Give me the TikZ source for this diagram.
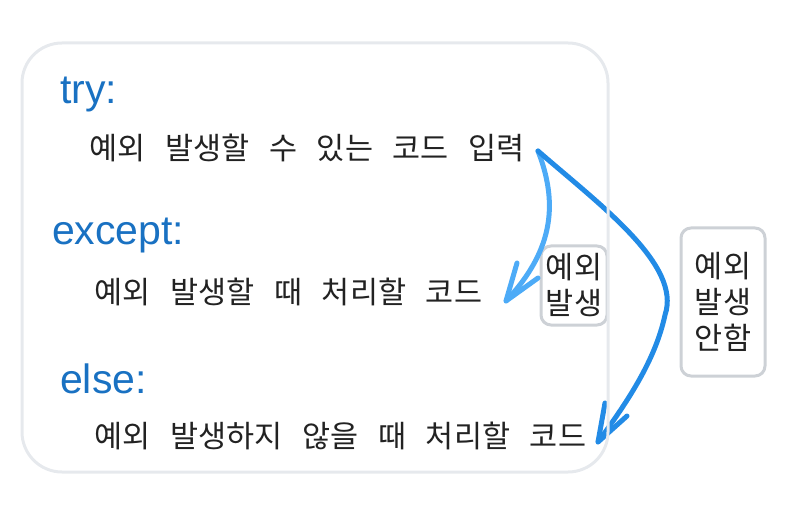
\documentclass[tikz,border=0pt]{standalone}
\usepackage{fontspec}
\usetikzlibrary{calc}
\setmainfont{Liberation Sans}
\newfontfamily\kr[WordSpace=2.9]{Noto Sans CJK KR}
\definecolor{kwblue}{HTML}{1971C2}
\definecolor{txt}{HTML}{222222}
\definecolor{boxline}{HTML}{E6E9ED}
\definecolor{lblline}{HTML}{CDD1D6}
\definecolor{lightarr}{HTML}{4DABF7}
\definecolor{darkarr}{HTML}{228BE6}
\tikzset{
  kw/.style={anchor=base west, inner sep=0pt, text=kwblue, font=\fontsize{41}{41}\selectfont},
  code/.style={anchor=west, inner sep=0pt, text=txt, font=\kr\fontsize{30.5}{30.5}\selectfont},
  lbl/.style={draw=lblline, line width=3pt, rounded corners=10pt, text=txt, align=center,
    font=\kr\fontsize{30.5}{36}\selectfont, inner sep=0pt},
  arr/.style={line width=5pt, line cap=round, line join=round},
}
\begin{document}
\begin{tikzpicture}[x=1pt,y=-1pt]
\useasboundingbox (0,0) rectangle (786,518);
% texts
\node[kw] (try) at (60,104) {try:};
\node[code] (t1) at (89,148) {예외 발생할 수 있는 코드 입력};
\node[kw] (exc) at (52,245) {except:};
\node[code] (t2) at (94,292) {예외 발생할 때 처리할 코드};
\node[kw] (els) at (60,393) {else:};
\node[code] (t3) at (94,436) {예외 발생하지 않을 때 처리할 코드};
% labels
\node[lbl, minimum width=66pt, minimum height=79pt] (l1) at (574,285.5) {예외\\발생};
\node[lbl, minimum width=84pt, minimum height=148pt] (l2) at (723,302) {예외\\발생\\안함};
% arrows
\coordinate (s) at (538,151);
\coordinate (e1) at (506,301);
\coordinate (b1a) at (517,263);
\coordinate (b1b) at (538,278);
\coordinate (e2) at (598,442);
\coordinate (b2a) at (605,403);
\coordinate (b2b) at (627,416);
\coordinate (m2) at (665,315);
\draw[arr, lightarr] (s) .. controls (557,200) and (556,248) .. (e1);
\draw[arr, lightarr] (b1a) -- (e1) -- (b1b);
\draw[arr, darkarr] (s) .. controls (600,205) and (682,265) .. (m2)
  .. controls (655,362) and (625,405) .. (e2);
\draw[arr, darkarr] (b2a) -- (e2) -- (b2b);
% main frame
\draw[boxline, line width=3pt, rounded corners=40pt] (22,43) rectangle (608,472);
\end{tikzpicture}
\end{document}
